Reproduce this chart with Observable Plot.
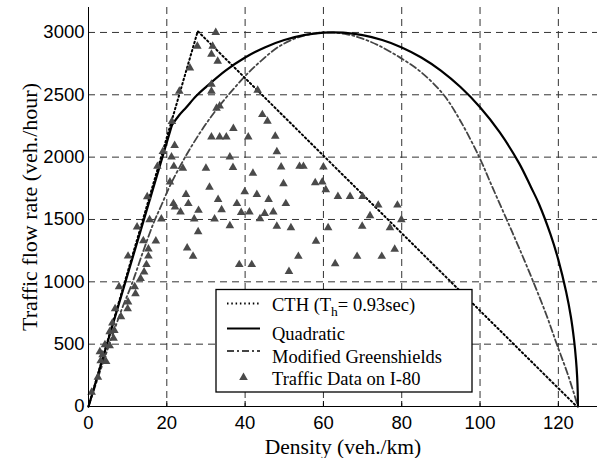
<!DOCTYPE html>
<html><head><meta charset="utf-8">
<script src="https://cdn.jsdelivr.net/npm/d3@7"></script>
<script src="https://cdn.jsdelivr.net/npm/@observablehq/plot@0.6"></script>
<style>
html,body{margin:0;padding:0;background:#fff;}
#chart{width:608px;height:458px;}
</style></head><body><div id="chart"></div>
<script>
// ---- axes ----
const xTicks = [0, 20, 40, 60, 80, 100, 120];
const yTicks = [0, 500, 1000, 1500, 2000, 2500, 3000];
const xTitle = "Density (veh./km)";
const yTitle = "Traffic flow rate (veh./hour)";

// ---- traffic data on I-80 (density, flow) ----
const dataK = [0.8,2.4,2.9,3.6,3.1,4.5,4.2,5.4,6.4,5.4,6.6,6.1,8.3,6.8,10.0,10.1,12.0,7.8,11.8,13.3,14.2,14.8,10.1,15.3,15.3,14.0,17.2,12.4,15.6,18.6,15.0,17.6,19.0,
  32.5,27.8,31.7,31.4,33.0,25.9,23.2,31.4,31.4,33.5,32.7,21.3,37.0,31.4,33.5,35.2,40.8,22.0,21.2,36.1,21.8,24.1,30.0,36.9,20.8,30.9,39.9,24.9,33.1,21.7,22.1,25.5,37.9,23.5,28.1,34.0,39.0,41.1,27.0,32.2,36.1,28.0,25.2,26.7,38.5,41.7,
  43.2,44.4,45.7,47.7,48.1,49.2,53.9,54.9,60.0,42.0,49.8,57.9,59.7,60.6,43.0,46.0,50.4,63.7,66.8,70.0,74.0,78.9,45.0,47.2,43.8,48.1,51.7,61.2,69.9,71.9,77.0,79.9,58.1,78.2,53.6,68.6,74.9,63.0,51.2];
const dataQ = [115,235,440,414,366,360,495,488,548,600,610,670,720,784,784,838,905,960,960,1027,1078,1138,1206,1206,1263,1330,1328,1440,1497,1503,1683,1926,2045,
  3000,2890,2890,2825,2769,2715,2528,2585,2528,2410,2392,2285,2229,2162,2162,2162,2162,2093,2001,2001,1926,1910,1910,1917,1800,1758,1722,1700,1660,1627,1600,1627,1627,1560,1573,1578,1556,1560,1503,1503,1449,1402,1272,1205,1138,1138,
  2536,2341,2287,2167,2044,1921,1926,1926,1921,1870,1787,1795,1800,1739,1701,1661,1627,1685,1685,1685,1615,1615,1548,1560,1506,1445,1434,1434,1446,1530,1434,1497,1326,1262,1204,1204,1204,1145,1083];

// ---- CTH (Th = 0.93 sec) ----
const cthK = [0, 27.9, 124.7];
const cthQ = [0, 3010, 0];

// ---- Quadratic ----
const quadK = [0,21.3,23,25,27.5,30,35,40,45,50,55,60,65,70,75,80,85,90,95,100,105,110,113,115,118,120,122,123.2,124,124.5,124.8,124.95,125];
const quadQ = [0,2256,2330,2400,2490,2562,2694,2799,2880,2939,2978,2998,2998,2978,2939,2880,2799,2694,2562,2400,2200,1950,1760,1628,1380,1176,918,720,536,378,240,120,0];

// ---- Modified Greenshields ----
const mgK = [0,3,6,8.5,11.1,13.8,16.6,18.7,20.8,24.7,29,33.2,40,44,48.5,54,60,66,70,74,79.6,85,90.7,95,99.8,103,106.8,110,113.6,117,119.6,122.5,125];
const mgQ = [0,285,560,780,985,1230,1470,1620,1770,2001,2220,2402,2650,2770,2884,2965,3000,2985,2950,2897,2798,2680,2500,2290,2000,1770,1500,1270,1000,730,500,250,0];

// legend labels
const legendLabels = ["CTH (T", "Quadratic", "Modified Greenshields", "Traffic Data on I-80"];

const pts = dataK.map((k, i) => ({k, q: dataQ[i]}));
const cth = cthK.map((k, i) => ({k, q: cthQ[i]}));
const quad = quadK.map((k, i) => ({k, q: quadQ[i]}));
const quadLin = quad.slice(0, 2);
const quadCurve = quad.slice(1);
const mg = mgK.map((k, i) => ({k, q: mgQ[i]}));

const SANS = "'Liberation Sans', Arial, sans-serif";
const SERIF = "'Liberation Serif', 'Times New Roman', serif";
const gridStyle = {stroke: "#333", strokeOpacity: 1, strokeWidth: 1, strokeDasharray: "7,5"};
const DOT = "1.5,2.8", DASHDOT = "7,3,2,3";
const TRI_R = 3.2;

const plot = Plot.plot({
  width: 608, height: 458,
  marginLeft: 88, marginRight: 11, marginTop: 7, marginBottom: 52,
  style: {background: "white", fontFamily: SANS, fontSize: "18.5px", color: "black"},
  x: {domain: [0, 130]},
  y: {domain: [0, 3200]},
  marks: [
    Plot.gridX(xTicks.filter(d => d > 0), gridStyle),
    Plot.gridY(yTicks.filter(d => d > 0), gridStyle),
    Plot.ruleX(xTicks.filter(d => d > 0), {x: d => d, y1: 0, y2: 40, stroke: "black", strokeWidth: 1}),
    Plot.line(mg, {x: "k", y: "q", curve: "catmull-rom", stroke: "#444", strokeWidth: 1.8, strokeDasharray: DASHDOT}),
    Plot.line(cth, {x: "k", y: "q", stroke: "black", strokeWidth: 2, strokeDasharray: DOT}),
    Plot.line(quadLin, {x: "k", y: "q", stroke: "black", strokeWidth: 2.2}),
    Plot.line(quadCurve, {x: "k", y: "q", curve: "catmull-rom", stroke: "black", strokeWidth: 2.2}),
    Plot.dot(pts, {x: "k", y: "q", symbol: "triangle", r: TRI_R, fill: "#4a4a4a", stroke: "none"}),
    Plot.ruleX([0], {stroke: "black", strokeWidth: 1}),
    Plot.ruleY([0], {stroke: "black", strokeWidth: 1}),
    Plot.axisX(xTicks, {tickSize: 0, tickPadding: 9, label: null, tickFormat: d => String(d), fontSize: 18.5, fontFamily: SANS}),
    Plot.axisY(yTicks, {tickSize: 0, tickPadding: 4, label: null, tickFormat: d => String(d), fontSize: 18.5, fontFamily: SANS}),
    Plot.text([xTitle], {text: d => d, frameAnchor: "bottom", dy: 41, lineAnchor: "middle", textAnchor: "middle", fontFamily: SERIF, fontSize: 21.5, fill: "black"}),
    Plot.text([yTitle], {text: d => d, frameAnchor: "left", dx: -59, rotate: -90, lineAnchor: "middle", textAnchor: "middle", fontFamily: SERIF, fontSize: 22, fill: "black"})
  ]
});
document.getElementById("chart").appendChild(plot);

// ---- legend ----
const svg = d3.select(plot);
const lg = svg.append("g").attr("font-family", SERIF).attr("font-size", 18.5)
  .attr("fill", "black").attr("text-anchor", "start");
lg.append("rect").attr("x", 216).attr("y", 289.5).attr("width", 256).attr("height", 102.5)
  .attr("fill", "white").attr("stroke", "black").attr("stroke-width", 1.3);
const lx1 = 227, lx2 = 260, tx = 272;
lg.append("line").attr("x1", lx1).attr("x2", lx2).attr("y1", 303.5).attr("y2", 303.5)
  .attr("stroke", "black").attr("stroke-width", 2).attr("stroke-dasharray", DOT);
lg.append("line").attr("x1", lx1).attr("x2", lx2).attr("y1", 328.5).attr("y2", 328.5)
  .attr("stroke", "black").attr("stroke-width", 2.2);
lg.append("line").attr("x1", lx1).attr("x2", lx2).attr("y1", 351).attr("y2", 351)
  .attr("stroke", "#444").attr("stroke-width", 1.8).attr("stroke-dasharray", DASHDOT);
lg.append("path").attr("d", d3.symbol(d3.symbolTriangle, Math.PI * TRI_R * TRI_R)())
  .attr("transform", "translate(243.5,377.5)").attr("fill", "#4a4a4a");
const t0 = lg.append("text").attr("x", tx).attr("y", 310.5);
t0.append("tspan").text(legendLabels[0]);
t0.append("tspan").attr("font-size", 13.5).attr("dy", 5).text("h");
t0.append("tspan").attr("dy", -5).text("= 0.93sec)");
lg.append("text").attr("x", tx).attr("y", 339.5).text(legendLabels[1]);
lg.append("text").attr("x", tx).attr("y", 362.5).text(legendLabels[2]);
lg.append("text").attr("x", tx).attr("y", 385).text(legendLabels[3]);
</script>
</body></html>
